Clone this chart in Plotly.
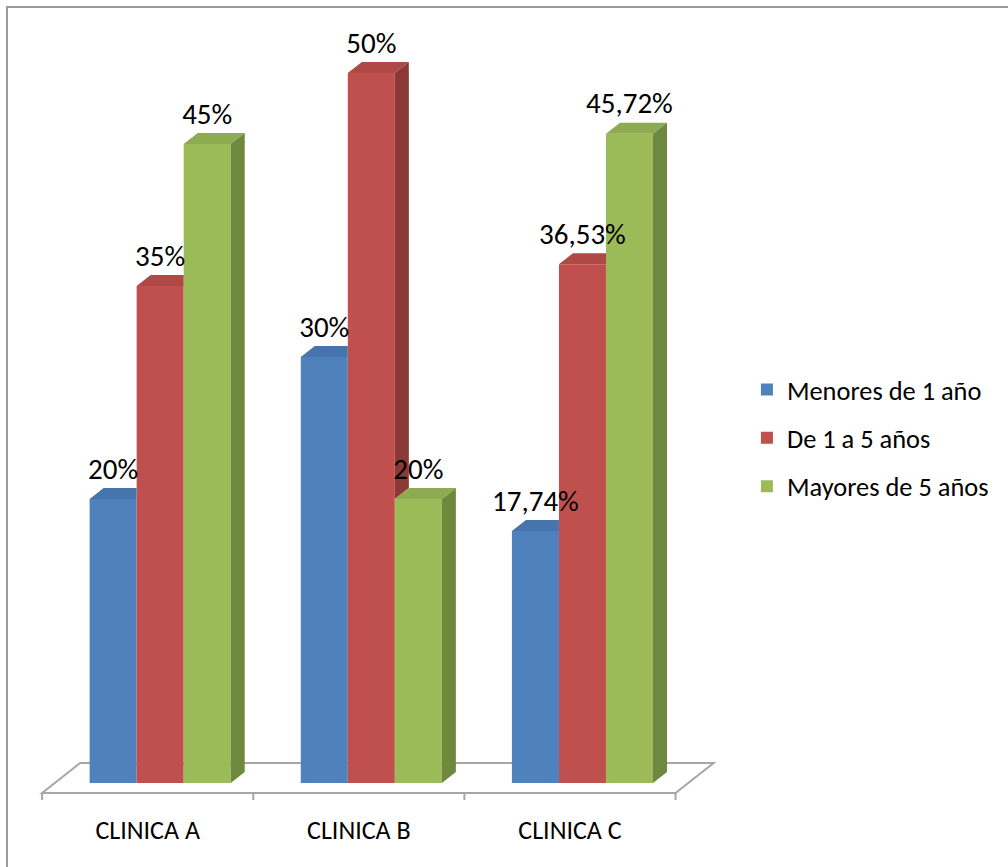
import plotly.graph_objects as go

categories = ["CLINICA A", "CLINICA B", "CLINICA C"]
series_names = ["Menores de 1 año", "De 1 a 5 años", "Mayores de 5 años"]
menores_1 = [20, 30, 17.74]
de_1_a_5 = [35, 50, 36.53]
mayores_5 = [45, 20, 45.72]
series_values = [menores_1, de_1_a_5, mayores_5]

front_colors = ["#4F81BD", "#C0504D", "#9BBB59"]
top_colors = ["#4674AC", "#B04845", "#8DAB51"]
side_colors = ["#375C8A", "#8A3937", "#6E883D"]

FONT = "Carlito, Lato, sans-serif"

def fmt(v):
    s = ("%g" % v).replace(".", ",")
    return s + "%"

# geometry (in axis units)
PX_X = 211.0          # pixels per category
PX_Y = 14.2           # pixels per percent
BAR_W = 47 / PX_X
OFF0 = -0.275
DX = 14 / PX_X
DY = 11 / PX_Y
FLOOR_FRONT = -10 / PX_Y
FLOOR_DX = 38 / PX_X
FLOOR_DY = 30 / PX_Y

ML, MT = 21, 20
X_RANGE = [-0.6, 2.72]
plot_w = (X_RANGE[1] - X_RANGE[0]) * PX_X
plot_h = 790
Y_RANGE = [(783 - 810) / PX_Y, (783 - 810) / PX_Y + plot_h / PX_Y]
MR = 1008 - ML - plot_w
MB = 867 - MT - plot_h

fig = go.Figure()
xs = list(range(len(categories)))

# front faces (bars)
for i, (name, vals) in enumerate(zip(series_names, series_values)):
    fig.add_trace(go.Bar(
        x=xs, y=vals, name=name, base=0,
        width=BAR_W, offset=OFF0 + i * BAR_W,
        marker=dict(color=front_colors[i], line=dict(width=0)),
        legendgroup=name, hoverinfo="skip",
    ))

# 3D top and side faces
for c in xs:
    for i in range(len(series_values)):
        v = series_values[i][c]
        L = c + OFF0 + i * BAR_W
        R = L + BAR_W
        nxt = series_values[i + 1][c] if i + 1 < len(series_values) else None
        # top face
        if nxt is not None and nxt > v:
            tx = [L, R, R, L + DX, L]
            ty = [v, v, v + DY, v + DY, v]
        else:
            tx = [L, R, R + DX, L + DX, L]
            ty = [v, v, v + DY, v + DY, v]
        fig.add_trace(go.Scatter(x=tx, y=ty, fill="toself", mode="lines",
                                 line=dict(width=0), fillcolor=top_colors[i],
                                 showlegend=False, hoverinfo="skip"))
        # side face
        if nxt is None:
            sx = [R, R + DX, R + DX, R, R]
            sy = [0, DY, v + DY, v, 0]
        elif v > nxt:
            sx = [R, R + DX, R + DX, R, R]
            sy = [nxt, nxt + DY, v + DY, v, nxt]
        else:
            sx = None
        if sx is not None:
            fig.add_trace(go.Scatter(x=sx, y=sy, fill="toself", mode="lines",
                                     line=dict(width=0), fillcolor=side_colors[i],
                                     showlegend=False, hoverinfo="skip"))

# value labels
for i, vals in enumerate(series_values):
    fig.add_trace(go.Scatter(
        x=[c + OFF0 + (i + 0.5) * BAR_W for c in xs],
        y=[v + 1.95 for v in vals],
        text=[fmt(v) for v in vals], mode="text",
        textposition="middle center",
        textfont=dict(family=FONT, size=29, color="#000000"),
        showlegend=False, hoverinfo="skip", cliponaxis=False,
    ))

# floor
x0, x1 = -0.5, len(categories) - 0.5
floor_pts_x = [x0, x1, x1 + FLOOR_DX, x0 + FLOOR_DX, x0]
floor_pts_y = [FLOOR_FRONT, FLOOR_FRONT, FLOOR_FRONT + FLOOR_DY, FLOOR_FRONT + FLOOR_DY, FLOOR_FRONT]
path = "M " + " L ".join(f"{a},{b}" for a, b in zip(floor_pts_x, floor_pts_y)) + " Z"
shapes = [dict(type="path", path=path, xref="x", yref="y", layer="below",
               line=dict(color="#A6A6A6", width=2), fillcolor="rgba(0,0,0,0)")]
for k in range(len(categories) + 1):
    tx = x0 + k
    shapes.append(dict(type="line", xref="x", yref="y", layer="below",
                       x0=tx, x1=tx, y0=FLOOR_FRONT, y1=FLOOR_FRONT - 7 / PX_Y,
                       line=dict(color="#A6A6A6", width=2)))
# outer border
shapes.append(dict(type="rect", xref="paper", yref="paper",
                   x0=(7 - ML) / plot_w, x1=(1020 - ML) / plot_w,
                   y0=-(880 - MT - plot_h) / plot_h, y1=1 + (MT - 7) / plot_h,
                   line=dict(color="#9A9A9A", width=2), fillcolor="rgba(0,0,0,0)",
                   layer="below"))

fig.update_layout(
    width=1008, height=867,
    margin=dict(l=ML, r=MR, t=MT, b=MB),
    paper_bgcolor="white", plot_bgcolor="white",
    barmode="overlay",
    shapes=shapes,
    font=dict(family=FONT, color="#000000"),
    xaxis=dict(range=X_RANGE, showgrid=False, zeroline=False, showline=False,
               tickvals=xs, ticktext=categories, ticks="",
               tickfont=dict(family=FONT, size=26, color="#000000"),
               ticklabelstandoff=2, fixedrange=True),
    yaxis=dict(range=Y_RANGE, visible=False, fixedrange=True),
    legend=dict(xref="container", yref="container", x=0.741, y=0.578,
                xanchor="left", yanchor="top", tracegroupgap=11,
                font=dict(family=FONT, size=26.4, color="#000000"),
                bgcolor="rgba(0,0,0,0)", itemclick=False, itemdoubleclick=False),
    showlegend=True,
)

fig.write_html("out.html")
